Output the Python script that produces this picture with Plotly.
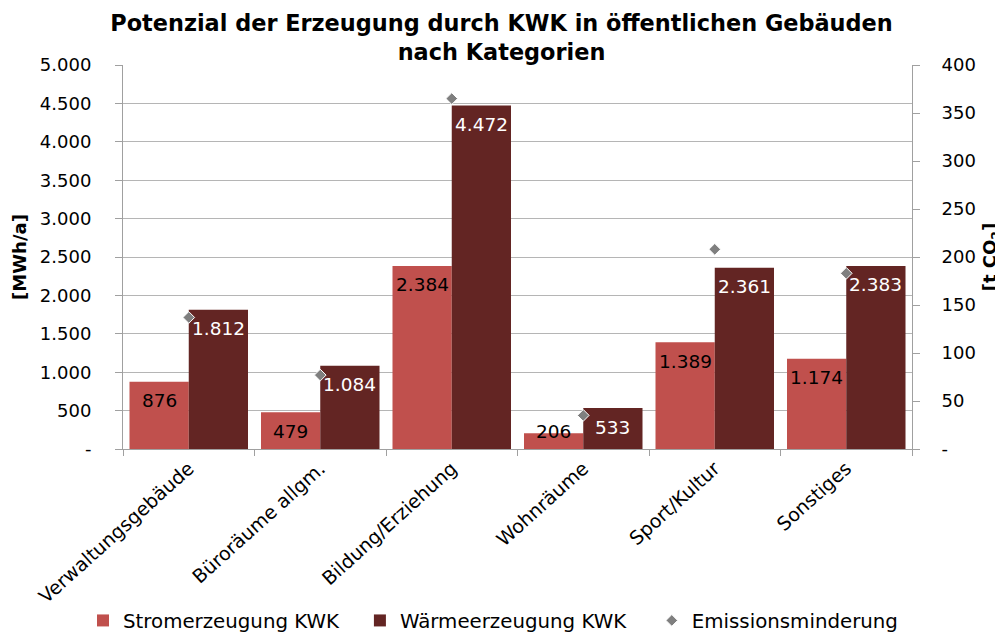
import plotly.graph_objects as go

categories = ["Verwaltungsgebäude", "Büroräume allgm.", "Bildung/Erziehung",
              "Wohnräume", "Sport/Kultur", "Sonstiges"]
strom = [876, 479, 2384, 206, 1389, 1174]
waerme = [1812, 1084, 4472, 533, 2361, 2383]
emission = [137, 77, 365, 35, 208, 183]

left_ticks = [0, 500, 1000, 1500, 2000, 2500, 3000, 3500, 4000, 4500, 5000]
left_ticktext = ["-", "500", "1.000", "1.500", "2.000", "2.500", "3.000",
                 "3.500", "4.000", "4.500", "5.000"]
right_ticks = [0, 50, 100, 150, 200, 250, 300, 350, 400]
right_ticktext = ["-", "50", "100", "150", "200", "250", "300", "350", "400"]

FONT = "DejaVu Sans"
C_STROM = "#C0504D"
C_WAERME = "#632523"
C_EMI = "#7F7F7F"
GRID = "#B5B5B5"
AXIS = "#A0A0A0"

def fmt(v):
    return f"{v:,}".replace(",", ".")

BW = 0.4506
# page body has an 8px margin; figure coordinates = screen - 8
W, H = 995, 626
ML, MT = 115, 57
PLOT_R, PLOT_B = 904.3, 441.3
MR = W - PLOT_R
MB = H - PLOT_B
plot_w = W - ML - MR
plot_h = H - MT - MB

fig = go.Figure()
fig.add_trace(go.Bar(x=categories, y=strom, name="Stromerzeugung KWK",
                     marker=dict(color=C_STROM, line=dict(width=0)),
                     offset=-BW, width=BW, legend="legend"))
fig.add_trace(go.Bar(x=categories, y=waerme, name="Wärmeerzeugung KWK",
                     marker=dict(color=C_WAERME, line=dict(width=0)),
                     offset=0, width=BW, legend="legend2"))
fig.add_trace(go.Scatter(x=categories, y=emission, name="Emissionsminderung",
                         mode="markers", yaxis="y2", legend="legend3",
                         marker=dict(symbol="diamond", size=9, color=C_EMI,
                                     line=dict(width=1, color="white"))))

px_per_unit = plot_h / 5000.0
annotations = []
for i, (s, w) in enumerate(zip(strom, waerme)):
    for v, xoff, col in ((s, -BW / 2, "black"), (w, BW / 2, "white")):
        if v * px_per_unit < 38:
            yv, ysh = 0, 18
        else:
            yv, ysh = v, -19
        annotations.append(dict(x=i + xoff, y=yv, xref="x", yref="y",
                                text=fmt(v), showarrow=False,
                                yanchor="middle", xanchor="center", yshift=ysh,
                                font=dict(family=FONT, size=18.5, color=col)))

# legend text start positions (figure px)
legend_text_x = [117, 394, 686]
legend_y = -(613 - PLOT_B) / plot_h

def legend_cfg(tx):
    return dict(orientation="h", x=(tx - 42 - ML) / plot_w, xanchor="left",
                y=legend_y, yanchor="middle", itemwidth=30,
                font=dict(family=FONT, size=19.8, color="black"),
                bgcolor="rgba(0,0,0,0)")

fig.update_layout(
    width=W, height=H,
    margin=dict(l=ML, r=MR, t=MT, b=MB, autoexpand=False),
    paper_bgcolor="white", plot_bgcolor="white",
    barmode="overlay",
    font=dict(family=FONT, size=18, color="black"),
    title=dict(text="<b>Potenzial der Erzeugung durch KWK in öffentlichen Gebäuden<br>nach Kategorien</b>",
               x=(501.5 - 8) / W, xref="container", xanchor="center",
               y=1 - 23 / H, yref="container", yanchor="middle",
               font=dict(family=FONT, size=22.4, color="black")),
    xaxis=dict(type="category", showline=True, linecolor=AXIS, linewidth=1,
               ticks="outside", ticklen=6, tickcolor=AXIS, tickson="boundaries",
               tickangle=-42, tickfont=dict(family=FONT, size=19, color="black"),
               showgrid=False, zeroline=False, automargin=False,
               range=[-0.5, 5.5]),
    yaxis=dict(range=[0, 5000], tickvals=left_ticks, ticktext=left_ticktext,
               showline=True, linecolor=AXIS, linewidth=1, ticks="outside",
               ticklen=7, tickcolor=AXIS, showgrid=True, gridcolor=GRID,
               gridwidth=1, zeroline=False, ticklabelstandoff=20,
               automargin=False,
               tickfont=dict(family=FONT, size=18, color="black"),
               title=dict(text="<b>[MWh/a]</b>", standoff=8,
                          font=dict(family=FONT, size=18, color="black"))),
    yaxis2=dict(range=[0, 400], tickvals=right_ticks, ticktext=right_ticktext,
                overlaying="y", side="right", showline=True, linecolor=AXIS,
                linewidth=1, ticks="outside", ticklen=7, tickcolor=AXIS,
                showgrid=False, zeroline=False, ticklabelstandoff=18,
                automargin=False,
                tickfont=dict(family=FONT, size=18, color="black"),
                title=dict(text="<b>[t CO<sub>2</sub>]</b>", standoff=8,
                           font=dict(family=FONT, size=18, color="black"))),
    legend=legend_cfg(legend_text_x[0]),
    legend2=legend_cfg(legend_text_x[1]),
    legend3=legend_cfg(legend_text_x[2]),
    annotations=annotations,
    showlegend=True,
)

fig.write_html("out.html")
